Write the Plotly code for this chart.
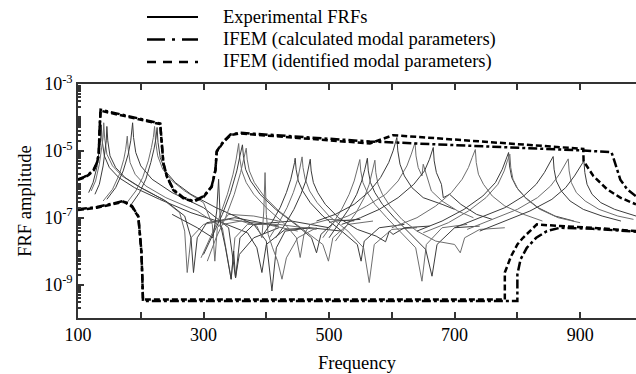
import plotly.graph_objects as go

# ---------------- data (frequency, log10 of FRF amplitude) ----------------
exp_freq = [
    [117,124,130,134,136,137,138.5,142,150,165,190,230,280,330,370,385,393,400,430,470],
    [121,128,134,138,140,141,142.5,146,155,170,195,235,262,270,274,280,300,340,400,450],
    [127,134,140,143,145,146,147.5,151,160,175,200,240,270,280,284,290,305,350,420],
    [140,155,166,173,176,177.5,178.5,180,183,191,208,240,290,330,344,350,370,420,480],
    [146,160,172,180,184,186,187,188.5,192,200,218,250,300,340,351,358,380,440,500],
    [178,192,203,212,217,220,222,223.5,227,235,250,270,300,314,318,322,340,380,420],
    [185,198,208,216,221,224,226,227.5,231,239,255,280,320,380,400,409,416,430,470,520],
    [296,310,325,338,347,352,355,356,357.5,361,368,380,400,430,448,454,460,470,500,540],
    [300,315,330,343,353,358,361,362,363.5,367,375,390,415,450,472,480,487,510,550],
    [306,320,335,349,359,364,367,368,369.5,373,381,396,420,455,490,499,506,530,570],
    [250,290,315,321,324,327,335,344,348,351,357,380,420],
    [330,360,385,393,396,398,400,403,410,418,425,432,450,480],
    [395,410,422,432,439,443,445,446,447.5,451,458,470,490,520,545,551,556,580,620],
    [405,420,433,443,450,454,456,457,458.5,462,469,481,500,530,555,564,572,600,640],
    [415,430,444,455,463,467,469,470,471.5,475,482,494,515,545,575,590,596,602,620,660],
    [490,505,520,532,540,545,548,549,550.5,554,561,573,592,615,638,648,655,680,720],
    [500,515,531,544,552,557,560,561,562.5,566,573,585,604,628,654,664,672,700,740],
    [510,526,543,556,564,569,572,573,574.5,578,585,597,616,640,670,700,709,716,740,780],
    [480,510,540,565,582,595,602,606,608,609.5,613,620,632,650,666,680,700],
    [500,530,560,590,610,624,631,635,637,638.5,642,648,650,663,680,705,730],
    [520,550,580,610,635,652,660,664,666,667.5,671,679,682,692,710,735,760],
    [600,640,670,695,712,722,728,731,733,734.5,738,746,760,780,810,840],
    [640,680,715,745,765,776,782,785,786,787.5,791,799,813,833,860,890],
    [650,690,722,750,769,779,784,787,788,789.5,793,801,815,836,865,900],
    [700,740,780,810,830,843,851,855,857,858.5,862,870,884,905,935,965],
    [720,760,800,832,853,867,875,879,881,882.5,886,894,908,930,960,985],
    [740,780,820,855,877,891,900,904,906,907.5,911,919,933,955,989],
]
exp_logamp = [
    [-6.25,-5.95,-5.5,-5.0,-4.7,-4.22,-4.7,-5.15,-5.5,-5.8,-6.1,-6.45,-6.85,-7.15,-7.45,-7.9,-8.64,-7.8,-7.35,-7.3],
    [-6.2,-5.9,-5.4,-4.9,-4.6,-4.16,-4.62,-5.1,-5.45,-5.75,-6.05,-6.45,-6.85,-7.4,-8.64,-7.6,-7.2,-7.05,-7.2,-7.4],
    [-6.3,-6.0,-5.45,-5.0,-4.7,-4.27,-4.7,-5.15,-5.5,-5.8,-6.1,-6.5,-6.95,-7.6,-8.64,-7.6,-7.15,-7.0,-7.25],
    [-6.5,-6.15,-5.7,-5.25,-4.95,-4.75,-4.56,-4.95,-5.35,-5.7,-6.05,-6.4,-6.8,-7.3,-8.84,-7.6,-7.2,-7.2,-7.35],
    [-6.45,-6.1,-5.6,-5.1,-4.7,-4.4,-4.16,-4.6,-5.05,-5.45,-5.85,-6.25,-6.7,-7.3,-8.8,-7.6,-7.2,-7.1,-7.3],
    [-6.55,-6.2,-5.8,-5.3,-4.9,-4.6,-4.27,-4.7,-5.15,-5.55,-5.9,-6.2,-6.55,-7.2,-8.3,-7.3,-6.9,-6.95,-7.1],
    [-6.6,-6.25,-5.85,-5.35,-4.95,-4.65,-4.3,-4.75,-5.2,-5.6,-5.95,-6.3,-6.7,-7.2,-7.7,-9.19,-7.9,-7.4,-7.3,-7.4],
    [-8.2,-7.6,-7.0,-6.3,-5.7,-5.25,-4.95,-4.78,-5.2,-5.6,-5.95,-6.3,-6.7,-7.2,-7.6,-8.19,-7.5,-7.2,-7.05,-7.1],
    [-8.1,-7.5,-6.9,-6.25,-5.6,-5.15,-4.9,-4.82,-5.15,-5.55,-5.9,-6.3,-6.75,-7.25,-7.6,-8.05,-7.5,-7.1,-7.05],
    [-8.3,-7.6,-7.0,-6.3,-5.65,-5.25,-5.0,-4.92,-5.25,-5.6,-5.95,-6.35,-6.8,-7.3,-7.8,-8.3,-7.6,-7.2,-7.1],
    [-6.9,-7.3,-7.6,-6.8,-5.85,-7.2,-7.9,-8.84,-8.0,-8.8,-8.1,-7.6,-7.3],
    [-7.2,-7.1,-7.25,-7.6,-6.8,-5.65,-6.9,-7.5,-7.9,-8.3,-8.84,-8.2,-7.6,-7.3],
    [-7.5,-7.1,-6.7,-6.25,-5.85,-5.55,-5.35,-5.22,-5.55,-5.9,-6.2,-6.55,-6.95,-7.4,-7.8,-8.3,-7.7,-7.3,-7.2],
    [-7.6,-7.15,-6.7,-6.25,-5.85,-5.5,-5.3,-5.18,-5.5,-5.85,-6.2,-6.55,-6.95,-7.4,-7.9,-8.94,-7.8,-7.35,-7.3],
    [-7.6,-7.2,-6.75,-6.3,-5.9,-5.55,-5.35,-5.25,-5.6,-5.95,-6.25,-6.6,-7.0,-7.35,-7.55,-7.72,-7.4,-7.5,-7.3,-7.25],
    [-7.6,-7.2,-6.75,-6.3,-5.9,-5.55,-5.35,-5.26,-5.6,-5.95,-6.25,-6.6,-7.0,-7.45,-7.9,-8.9,-7.8,-7.3,-7.2],
    [-7.6,-7.2,-6.75,-6.3,-5.9,-5.55,-5.35,-5.22,-5.6,-5.95,-6.25,-6.6,-7.0,-7.45,-7.95,-8.75,-7.8,-7.3,-7.25],
    [-7.7,-7.3,-6.85,-6.4,-6.0,-5.6,-5.4,-5.28,-5.65,-6.0,-6.3,-6.65,-7.05,-7.4,-7.7,-7.8,-8.05,-7.6,-7.35,-7.3],
    [-7.1,-6.9,-6.6,-6.2,-5.8,-5.35,-5.0,-4.75,-4.6,-5.0,-5.4,-5.75,-6.1,-6.4,-6.5,-6.6,-6.75],
    [-7.15,-6.95,-6.65,-6.3,-5.9,-5.45,-5.1,-4.9,-4.75,-5.15,-5.5,-5.75,-5.4,-6.2,-6.5,-6.8,-7.0],
    [-7.2,-7.0,-6.75,-6.4,-6.0,-5.6,-5.25,-5.05,-4.9,-5.3,-5.65,-6.0,-6.4,-6.3,-6.6,-6.9,-7.05],
    [-7.3,-7.0,-6.65,-6.25,-5.85,-5.5,-5.2,-5.05,-4.96,-5.35,-5.7,-6.0,-6.35,-6.65,-6.9,-7.1],
    [-7.4,-7.1,-6.75,-6.35,-5.95,-5.55,-5.25,-5.1,-5.05,-5.45,-5.8,-6.1,-6.4,-6.7,-6.95,-7.1],
    [-7.45,-7.15,-6.8,-6.4,-6.0,-5.6,-5.3,-5.15,-5.1,-5.5,-5.85,-6.15,-6.45,-6.75,-7.0,-7.15],
    [-7.3,-7.0,-6.7,-6.35,-6.0,-5.65,-5.4,-5.25,-5.17,-5.55,-5.9,-6.2,-6.5,-6.75,-6.95,-7.1],
    [-7.35,-7.05,-6.75,-6.4,-6.05,-5.7,-5.45,-5.3,-5.24,-5.6,-5.95,-6.25,-6.5,-6.75,-6.95,-7.05],
    [-7.4,-7.1,-6.8,-6.45,-6.1,-5.75,-5.5,-5.35,-5.3,-5.65,-6.0,-6.3,-6.55,-6.75,-6.95],
]

calc_upper_freq = [100,110,117,125,130,133,134.5,136,231,233.7,236,241.7,252,268,284,300,313,319,321,332,343,358,565,905,950,958,964,975,989]
calc_upper_logamp = [-5.85,-5.78,-5.7,-5.56,-5.36,-5.1,-4.3,-3.77,-4.18,-4.76,-5.36,-5.76,-6.16,-6.4,-6.5,-6.36,-6.06,-5.56,-5.01,-4.71,-4.51,-4.46,-4.72,-4.99,-5.04,-5.5,-5.86,-6.15,-6.36]
ident_upper_freq = [100,110,117,125,130,133,134.5,136,231,233.7,236,241.7,252,268,284,300,313,319,321,332,343,358,500,565,602,905,905.5,921,943,964,989]
ident_upper_logamp = [-5.87,-5.8,-5.72,-5.58,-5.38,-5.12,-4.32,-3.8,-4.2,-4.78,-5.38,-5.78,-6.18,-6.42,-6.52,-6.38,-6.08,-5.58,-5.03,-4.73,-4.53,-4.48,-4.68,-4.78,-4.53,-4.94,-5.31,-5.75,-6.15,-6.4,-6.6]
calc_lower_freq = [100,130,150,172.6,186,196,198,201,202.5,203.5,800,800,805,815,830,847,868,920,989]
calc_lower_logamp = [-6.75,-6.68,-6.6,-6.5,-6.65,-6.95,-7.35,-8.0,-8.8,-9.49,-9.49,-8.7,-8.25,-7.9,-7.6,-7.4,-7.3,-7.33,-7.42]
ident_lower_freq = [100,130,150,172.6,186,196,198,201,202.5,203.5,780,780,790,800,809,831,868,920,989]
ident_lower_logamp = [-6.77,-6.7,-6.62,-6.52,-6.67,-6.97,-7.37,-8.02,-8.82,-9.45,-9.45,-8.64,-8.15,-7.8,-7.6,-7.2,-7.25,-7.3,-7.4]

legend_labels = ["Experimental FRFs", "IFEM (calculated modal parameters)", "IFEM (identified modal parameters)"]
x_tickvals = [100, 300, 500, 700, 900]
x_ticktext = ["100", "300", "500", "700", "900"]
y_tickvals = [1e-3, 1e-5, 1e-7, 1e-9]
y_ticktext = ["10<sup>-3</sup>", "10<sup>-5</sup>", "10<sup>-7</sup>", "10<sup>-9</sup>"]

FONT = "Liberation Serif"
DASHDOT = "9px,3px,3px,3px"
DASHED = "6px,3px"

fig = go.Figure()
for i, (fx, fy) in enumerate(zip(exp_freq, exp_logamp)):
    fig.add_trace(go.Scatter(
        x=fx, y=[10 ** v for v in fy], mode="lines",
        line=dict(color="#3c3c3c" if i % 2 == 0 else "#6e6e6e", width=1),
        showlegend=False, hoverinfo="skip"))

for fx, fy, dash in [(calc_upper_freq, calc_upper_logamp, DASHDOT),
                     (calc_lower_freq, calc_lower_logamp, DASHDOT),
                     (ident_upper_freq, ident_upper_logamp, DASHED),
                     (ident_lower_freq, ident_lower_logamp, DASHED)]:
    fig.add_trace(go.Scatter(
        x=fx, y=[10 ** v for v in fy], mode="lines",
        line=dict(color="black", width=2.5, dash=dash),
        showlegend=False, hoverinfo="skip"))

# manual legend (pixel placement converted to paper coords)
W, H = 636, 374
L, R, T, B = 78, 0, 84, 56
pw, ph = W - L - R, H - T - B
def px(xp):
    return (xp - L) / pw
def py(yp):
    return (H - B - yp) / ph

legend_rows = [17, 39.5, 62]
legend_dash = ["solid", "18px,7px,3px,7px", "9px,7px"]
legend_width = [2.2, 2.7, 2.7]
shapes = []
annotations = []
for lab, yr, dsh, lw in zip(legend_labels, legend_rows, legend_dash, legend_width):
    shapes.append(dict(type="line", xref="paper", yref="paper",
                       x0=px(147), x1=px(198), y0=py(yr), y1=py(yr),
                       line=dict(color="black", width=lw, dash=dsh)))
    annotations.append(dict(text=lab, xref="paper", yref="paper",
                            x=px(221), y=py(yr), xanchor="left", yanchor="middle",
                            showarrow=False, font=dict(family=FONT, size=18.5, color="black")))

fig.update_layout(
    width=W, height=H,
    margin=dict(l=L, r=R, t=T, b=B),
    paper_bgcolor="white", plot_bgcolor="white",
    font=dict(family=FONT, size=18, color="black"),
    shapes=shapes, annotations=annotations,
    showlegend=False,
)
fig.update_xaxes(
    range=[100, 989], tickmode="array", tickvals=x_tickvals, ticktext=x_ticktext,
    ticks="inside", ticklen=6, tickcolor="#333", tickwidth=1.5,
    minor=dict(ticks="inside", ticklen=6, tick0=100, dtick=100, tickcolor="#333", tickwidth=1.5, showgrid=False),
    showline=True, linecolor="#333", linewidth=1.5, mirror="ticks",
    showgrid=False, zeroline=False,
    title=dict(text="Frequency", font=dict(family=FONT, size=18.5, color="black"), standoff=12),
    tickfont=dict(family=FONT, size=18, color="black"),
)
fig.update_yaxes(
    type="log", range=[-10, -3], tickmode="array", tickvals=y_tickvals, ticktext=y_ticktext,
    ticks="inside", ticklen=6, tickcolor="#333", tickwidth=1.5,
    minor=dict(ticks="inside", ticklen=3, dtick="D1", tickcolor="#333", showgrid=False),
    showline=True, linecolor="#333", linewidth=1.5,
    showgrid=False, zeroline=False,
    title=dict(text="FRF amplitude", font=dict(family=FONT, size=18.5, color="black"), standoff=8),
    tickfont=dict(family=FONT, size=18, color="black"),
)

fig.write_html("out.html")
